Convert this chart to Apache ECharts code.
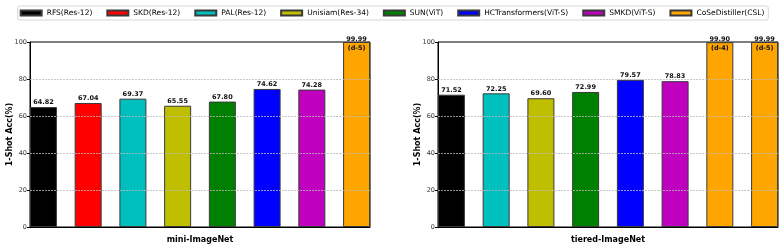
<!DOCTYPE html>
<html><head><meta charset="utf-8">
<script src="https://cdn.jsdelivr.net/npm/echarts@6/dist/echarts.min.js"></script>
<style>html,body{margin:0;padding:0;background:#fff}#c{width:784px;height:251px}</style>
</head><body><div id="c"></div>
<script>
const legendNames = ['RFS(Res-12)', 'SKD(Res-12)', 'PAL(Res-12)', 'Unisiam(Res-34)', 'SUN(ViT)', 'HCTransformers(ViT-S)', 'SMKD(ViT-S)', 'CoSeDistiller(CSL)'];
const miniNames = ['RFS(Res-12)', 'SKD(Res-12)', 'PAL(Res-12)', 'Unisiam(Res-34)', 'SUN(ViT)', 'HCTransformers(ViT-S)', 'SMKD(ViT-S)', 'CoSeDistiller(CSL)'];
const miniValues = [64.82, 67.04, 69.37, 65.55, 67.80, 74.62, 74.28, 99.99];
const miniNotes = ['', '', '', '', '', '', '', '(d-5)'];
const tieredNames = ['RFS(Res-12)', 'PAL(Res-12)', 'Unisiam(Res-34)', 'SUN(ViT)', 'HCTransformers(ViT-S)', 'SMKD(ViT-S)', 'CoSeDistiller(CSL)', 'CoSeDistiller(CSL)'];
const tieredValues = [71.52, 72.25, 69.60, 72.99, 79.57, 78.83, 99.90, 99.99];
const tieredNotes = ['', '', '', '', '', '', '(d-4)', '(d-5)'];
const datasetTitles = ['mini-ImageNet', 'tiered-ImageNet'];
const yTitle = '1-Shot Acc(%)';
const gridValues = [20, 40, 60, 80];

const colorMap = {
  'RFS(Res-12)': '#000000', 'SKD(Res-12)': '#ff0000', 'PAL(Res-12)': '#00bfbf',
  'Unisiam(Res-34)': '#bfbf00', 'SUN(ViT)': '#008000', 'HCTransformers(ViT-S)': '#0000ff',
  'SMKD(ViT-S)': '#bf00bf', 'CoSeDistiller(CSL)': '#ffa500'
};
const FONT = 'DejaVu Sans';
const panels = [
  {names: miniNames, values: miniValues, notes: miniNotes},
  {names: tieredNames, values: tieredValues, notes: tieredNotes}
];
const grids = [
  {left: 30, top: 42, width: 340, height: 185},
  {left: 438, top: 42, width: 340, height: 185}
];
const xAxes = [], yAxes = [], series = [];
panels.forEach((p, g) => {
  xAxes.push({
    type: 'value', gridIndex: g, min: -0.3, max: 7.3,
    axisLabel: {show: false}, axisTick: {show: false}, splitLine: {show: false},
    axisLine: {show: true, onZero: false, lineStyle: {color: '#000', width: 1}},
    name: datasetTitles[g], nameLocation: 'middle', nameGap: 9, nameMoveOverlap: false,
    nameTextStyle: {fontFamily: FONT, fontWeight: 'bold', fontSize: 8, color: '#000'}
  });
  yAxes.push({
    type: 'value', gridIndex: g, min: 0, max: 100, interval: 20,
    axisLine: {show: true, onZero: false, lineStyle: {color: '#000', width: 1}},
    axisTick: {show: true, length: 3, lineStyle: {color: '#000'}},
    axisLabel: {fontFamily: FONT, fontSize: 6.5, color: '#333', margin: 3},
    splitLine: {show: false},
    name: yTitle, nameLocation: 'middle', nameRotate: 90, nameGap: 16, nameMoveOverlap: false,
    nameTextStyle: {fontFamily: FONT, fontWeight: 'bold', fontSize: 8, color: '#000'}
  });
  p.values.forEach((v, i) => {
    const note = p.notes[i];
    const label = note ? {
      show: true, position: 'insideTop', distance: 0, offset: [0, -7],
      formatter: '{v|' + v.toFixed(2) + '}\n{d|' + note + '}',
      rich: {
        v: {fontFamily: FONT, fontWeight: 'bold', fontSize: 6.5, color: '#111', lineHeight: 9},
        d: {fontFamily: FONT, fontWeight: 'bold', fontSize: 6.5, color: '#111', lineHeight: 9}
      }
    } : {
      show: true, position: 'top', distance: 1,
      formatter: v.toFixed(2),
      fontFamily: FONT, fontWeight: 'bold', fontSize: 6.5, color: '#111'
    };
    series.push({
      type: 'bar', name: p.names[i], xAxisIndex: g, yAxisIndex: g,
      data: [[i, v]], barWidth: 27, barGap: '-100%',
      itemStyle: {color: colorMap[p.names[i]], borderColor: '#3a3a3a', borderWidth: 1},
      label: label, clip: true
    });
  });
  series.push({
    type: 'line', name: '_grid' + g, xAxisIndex: g, yAxisIndex: g, data: [], z: 10, silent: true,
    markLine: {
      silent: true, symbol: 'none', animation: false, label: {show: false},
      lineStyle: {color: '#bbb', type: [2, 1], width: 0.8},
      data: gridValues.map(y => ({yAxis: y}))
    }
  });
});
const chart = echarts.init(document.getElementById('c'), null, {renderer: 'canvas'});
chart.setOption({
  animation: false,
  backgroundColor: '#fff',
  legend: {
    data: legendNames, left: 'center', top: 6, icon: 'rect',
    itemWidth: 21, itemHeight: 5, itemGap: 14, padding: [3, 4, 3, 2],
    borderColor: '#ccc', borderWidth: 0.8, borderRadius: 2,
    textStyle: {fontFamily: FONT, fontSize: 7.5, color: '#000'}
  },
  grid: grids.map(g => Object.assign({show: true, borderColor: '#000', borderWidth: 1, backgroundColor: 'transparent'}, g)),
  xAxis: xAxes, yAxis: yAxes, series: series
});
</script></body></html>
